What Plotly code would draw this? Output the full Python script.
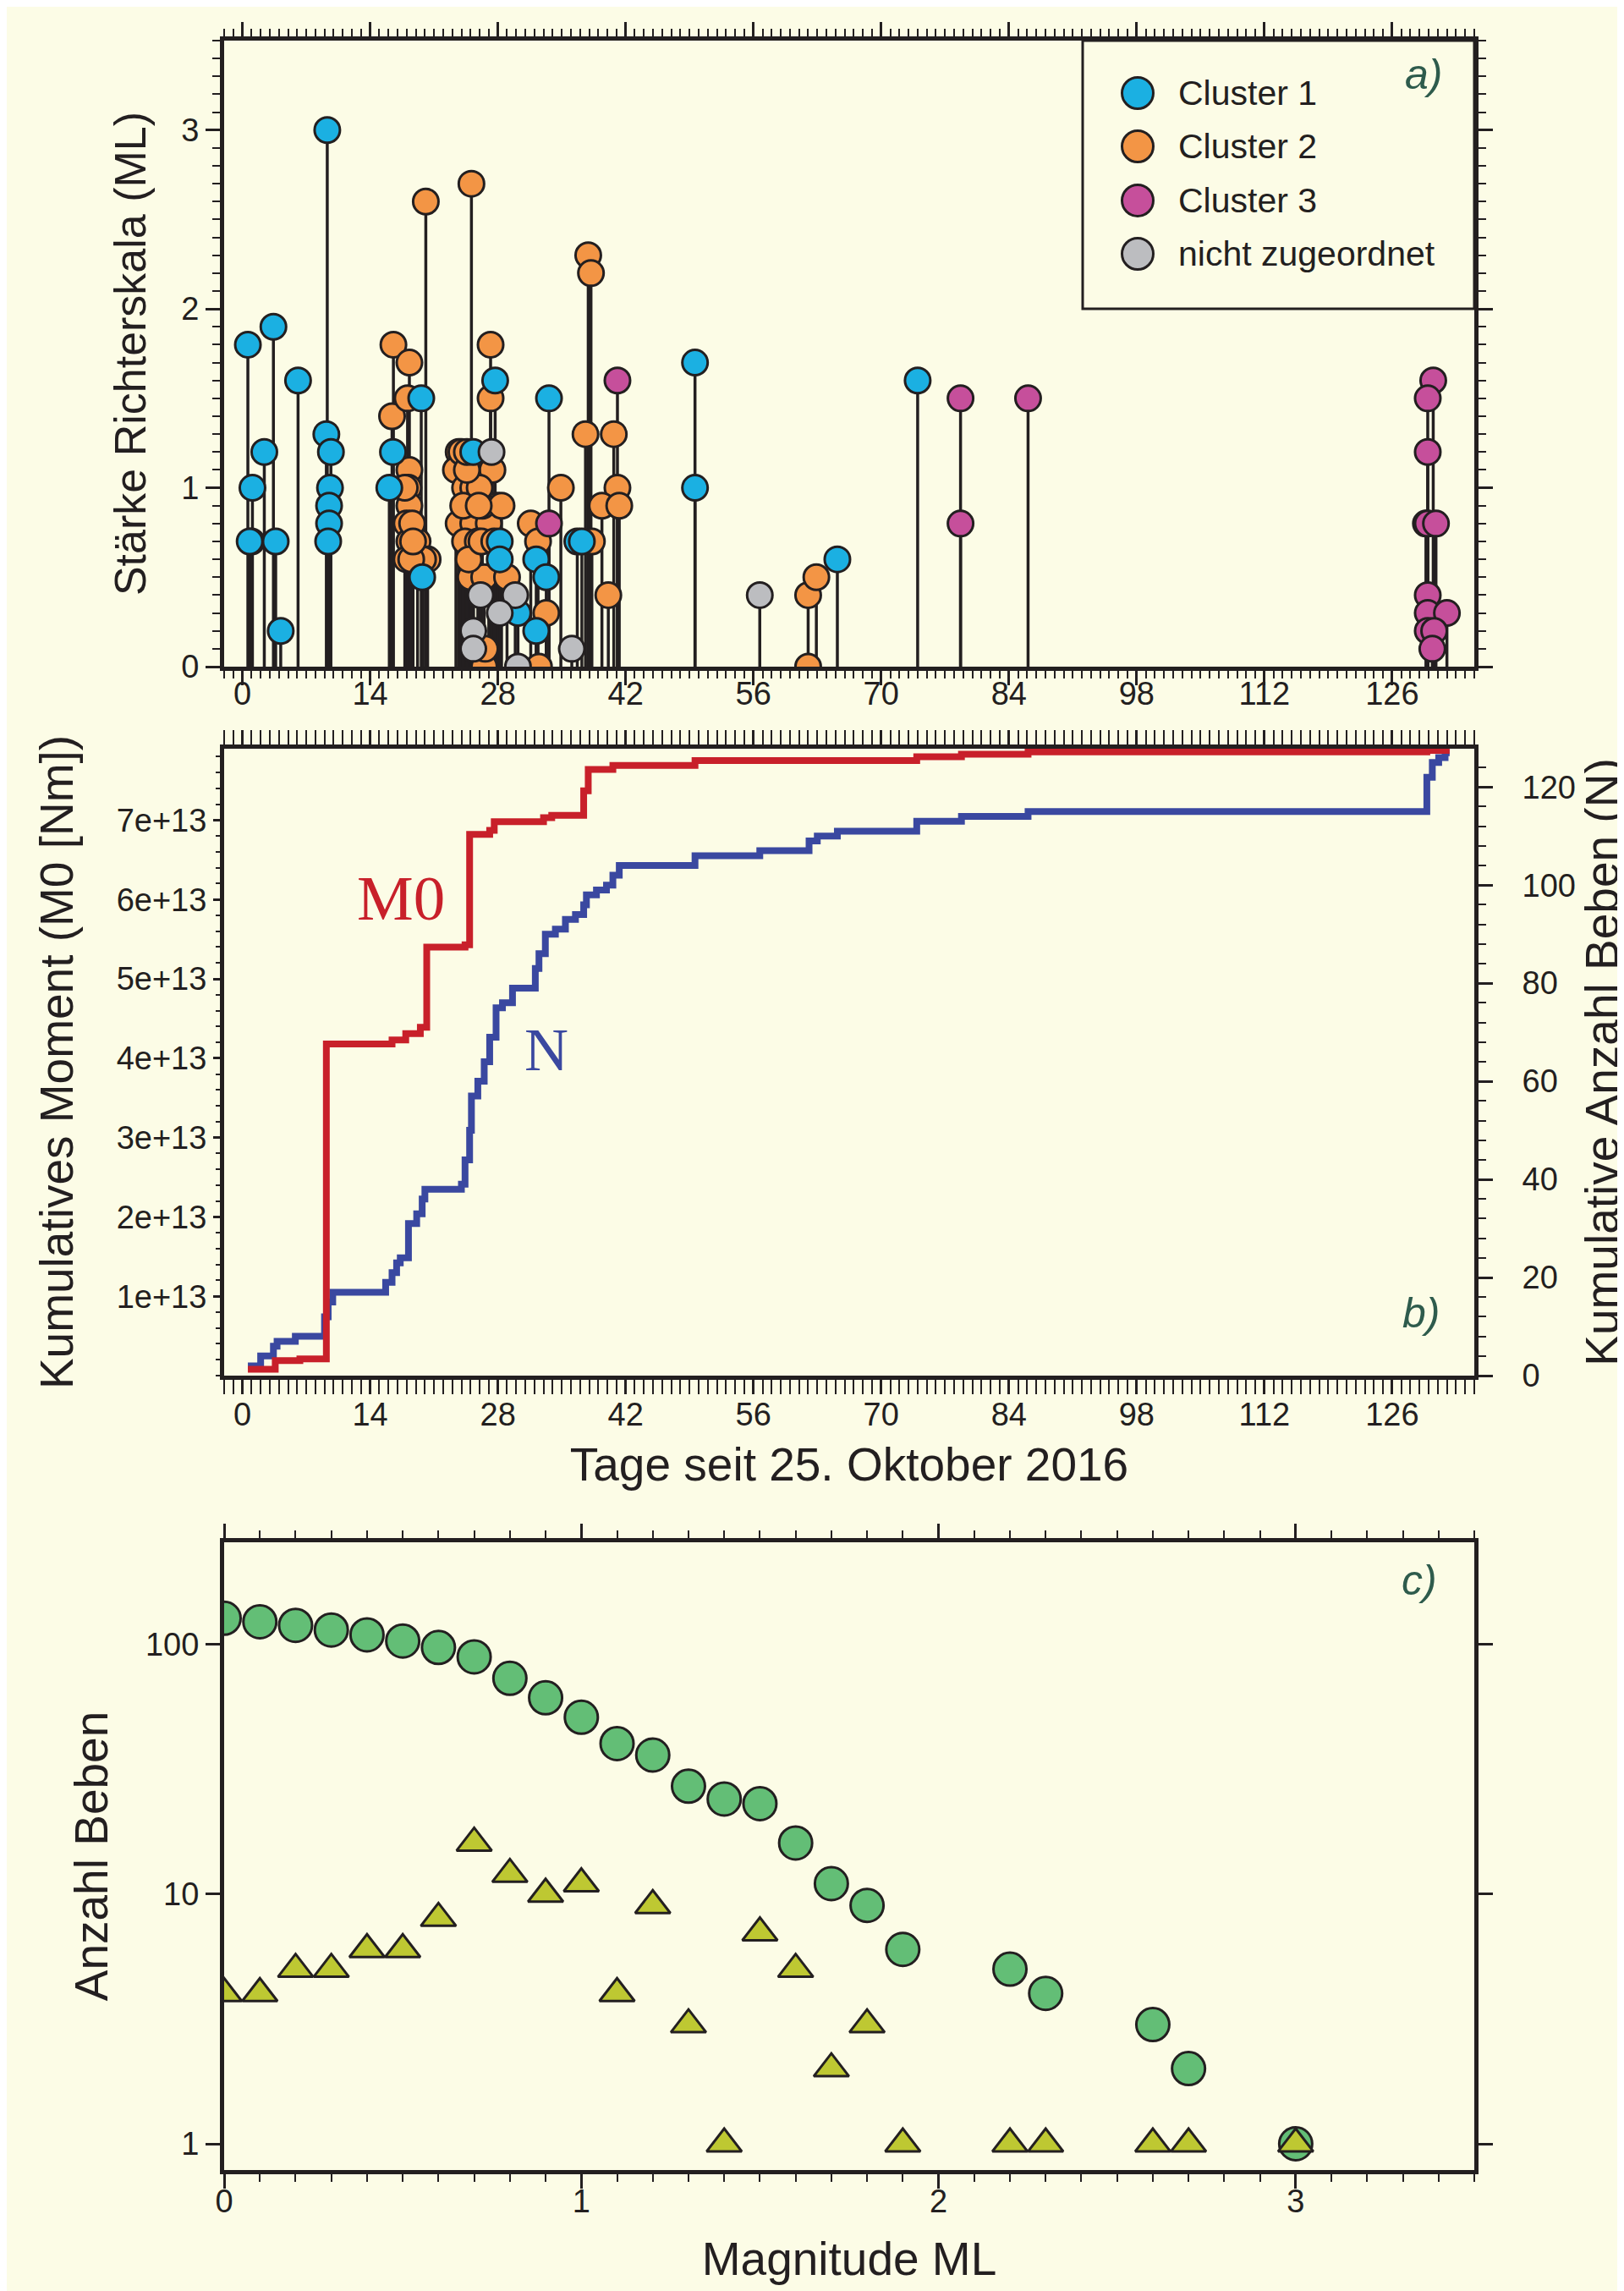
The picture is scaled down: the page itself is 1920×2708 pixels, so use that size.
import plotly.graph_objects as go

W, H = 1920, 2708
BG = "#FCFCE6"
INK = "#231F20"
SANS = "Liberation Sans, Arial, Helvetica, sans-serif"
SERIF = "Liberation Serif, Times New Roman, serif"
LABEL_GREEN = "#2E5B4C"

COL_C1 = "#1BB0E2"
COL_C2 = "#F39545"
COL_C3 = "#C64F9B"
COL_C0 = "#BCBDC0"
COL_RED = "#C8202A"
COL_BLUE = "#3A48A0"
COL_GREEN = "#63BE76"
COL_OLIVE = "#BEC832"

# ---------------- Panel a: events (days since 25 Oct 2016, ML) ----------------
c1_days = [0.6, 1.1, 1.0, 0.8, 2.4, 3.4, 3.65, 4.2, 6.1,
           9.3, 9.2, 9.7, 9.6, 9.5, 9.5, 9.4,
           16.1, 16.5, 19.6, 19.7,
           25.3, 27.7, 28.2, 28.2, 30.2,
           32.2, 33.3, 32.2, 33.6, 36.7, 37.2,
           49.6, 49.6, 65.2, 74.0]
c1_ml = [1.8, 1.0, 0.7, 0.7, 1.2, 1.9, 0.7, 0.2, 1.6,
         3.0, 1.3, 1.2, 1.0, 0.9, 0.8, 0.7,
         1.0, 1.2, 1.5, 0.5,
         1.2, 1.6, 0.7, 0.6, 0.3,
         0.6, 0.5, 0.2, 1.5, 0.7, 0.7,
         1.7, 1.0, 0.6, 1.6]

c2_days = [16.55, 16.4, 18.3, 18.1, 18.3, 18.2, 18.3, 18.0, 18.3, 19.2, 18.0, 20.3, 19.8, 20.1, 18.6, 17.8, 18.5, 18.7,
           23.7, 23.4, 24.4, 25.3, 24.97, 27.9, 23.7, 25.3, 27.0, 24.4, 25.0, 26.5, 29.0, 26.5, 25.1, 27.2, 27.2, 27.4,
           24.0, 25.8, 26.3, 24.8, 26.0,
           26.6, 26.2, 27.6, 24.2, 28.4, 25.9, 24.6, 24.6,
           31.6, 32.4, 33.3, 32.5, 34.9, 38.3, 37.9, 38.2, 37.6, 40.7, 41.1, 39.4, 41.3, 40.1,
           62.0, 62.0, 62.9]
c2_ml = [1.8, 1.4, 1.7, 1.5, 1.1, 1.0, 0.9, 0.8, 0.7, 0.7, 0.6, 0.6, 0.6, 2.6, 0.8, 1.0, 0.6, 0.7,
         1.2, 1.1, 1.0, 1.0, 0.9, 0.9, 0.8, 0.8, 0.8, 0.7, 0.5, 0.5, 0.5, 0.0, 2.7, 1.8, 1.5, 1.1,
         1.2, 0.7, 0.9, 0.6, 1.0,
         0.1, 0.7, 0.7, 0.9, 0.9, 0.9, 1.1, 1.2,
         0.8, 0.7, 0.3, 0.0, 1.0, 0.7, 2.3, 2.2, 1.3, 1.3, 1.0, 0.9, 0.9, 0.4,
         0.0, 0.4, 0.5]

c3_days = [33.6, 41.1, 78.7, 78.7, 86.1, 130.5, 129.9, 129.9, 129.9, 130.8, 129.9, 129.9, 132.0, 129.9, 130.6, 130.4]
c3_ml = [0.8, 1.6, 1.5, 0.8, 1.5, 1.6, 1.5, 1.2, 0.8, 0.8, 0.4, 0.3, 0.3, 0.2, 0.2, 0.1]

c0_days = [27.3, 26.1, 29.9, 28.2, 25.3, 25.3, 30.2, 36.1, 56.7, 129.7]
c0_ml = [1.2, 0.4, 0.4, 0.3, 0.2, 0.1, 0.0, 0.1, 0.4, 0.8]

legend_labels = ["Cluster 1", "Cluster 2", "Cluster 3", "nicht zugeordnet"]

# ---------------- Panel b: cumulative curves ----------------
n_days = [0.6, 2.0, 3.4, 3.8, 5.8, 9.0, 9.4, 9.9, 15.7, 16.4, 16.9, 17.3, 18.2, 19.1, 19.7, 20.0,
          24.0, 24.4, 24.9, 25.1, 25.8, 26.5, 27.1, 27.8, 28.5, 29.6,
          32.1, 32.5, 33.2, 34.3, 35.4, 36.5, 37.4, 37.7, 38.8, 39.9, 40.6, 41.3,
          49.6, 56.7, 62.1, 63.0, 65.2, 73.9, 78.8, 86.1, 129.8, 130.4, 131.1, 131.8, 132.3]
n_count = [2, 4, 6, 7, 8, 12, 15, 17, 19, 21, 23, 24, 31, 33, 36, 38,
           39, 44, 50, 57, 60, 64, 69, 75, 76, 79,
           83, 86, 90, 91, 93, 94, 96, 98, 99, 100, 102, 104,
           106, 107, 109, 110, 111, 113, 114, 115, 122, 125, 126, 127, 127]

m0_days = [0.6, 3.6, 6.3, 9.2, 16.4, 17.9, 19.5, 20.2, 24.4, 24.9, 27.1, 27.6, 33.0, 33.9,
           37.4, 37.9, 40.6, 49.6, 73.9, 78.8, 86.1, 129.8, 132.3]
m0_nm = [0.08e13, 0.19e13, 0.21e13, 4.18e13, 4.23e13, 4.31e13, 4.39e13, 5.40e13, 5.43e13, 6.82e13,
         6.87e13, 6.98e13, 7.03e13, 7.06e13, 7.37e13, 7.64e13, 7.69e13, 7.75e13, 7.80e13, 7.83e13,
         7.86e13, 7.88e13, 7.88e13]
m0_tickvals = [1e13, 2e13, 3e13, 4e13, 5e13, 6e13, 7e13]
m0_ticktext = ["1e+13", "2e+13", "3e+13", "4e+13", "5e+13", "6e+13", "7e+13"]
day_ticks = [0, 14, 28, 42, 56, 70, 84, 98, 112, 126]

# ---------------- Panel c: magnitude statistics ----------------
mag_bins = [0.0, 0.1, 0.2, 0.3, 0.4, 0.5, 0.6, 0.7, 0.8, 0.9, 1.0, 1.1, 1.2, 1.3, 1.4, 1.5,
            1.6, 1.7, 1.8, 1.9, 2.2, 2.3, 2.6, 2.7, 3.0]
n_cum = [127, 123, 119, 114, 109, 103, 97, 89, 73, 61, 51, 40, 36, 27, 24, 23,
         16, 11, 9, 6, 5, 4, 3, 2, 1]
n_bin = [4, 4, 5, 5, 6, 6, 8, 16, 12, 10, 11, 4, 9, 3, 1, 7,
         5, 2, 3, 1, 1, 1, 1, 1, 1]


def px(x):
    return x / W


def py(y):
    return 1 - y / H


X_DOM = [px(257), px(1735)]
A_DOM = [py(780), py(40)]
B_DOM = [py(1618), py(877)]
C_DOM = [py(2557), py(1815)]

TICKFONT = dict(family=SANS, size=38, color=INK)
TITLEFONT = dict(family=SANS, size=55, color=INK)

fig = go.Figure()

# ---- panel a: stems ----
clusters = [
    ("Cluster 1", c1_days, c1_ml, COL_C1),
    ("Cluster 2", c2_days, c2_ml, COL_C2),
    ("Cluster 3", c3_days, c3_ml, COL_C3),
    ("nicht zugeordnet", c0_days, c0_ml, COL_C0),
]
stem_x, stem_y = [], []
for _, days, mls, _ in clusters:
    for d, m in zip(days, mls):
        stem_x += [d, d, None]
        stem_y += [0, m, None]
fig.add_trace(go.Scatter(x=stem_x, y=stem_y, mode="lines", line=dict(color=INK, width=3.5),
                         xaxis="x", yaxis="y", hoverinfo="skip", showlegend=False))

draw_order = [1, 0, 3, 2]
for i in draw_order:
    name, days, mls, col = clusters[i]
    fig.add_trace(go.Scatter(x=days, y=mls, mode="markers", name=name,
                             marker=dict(size=30, color=col, line=dict(color=INK, width=3)),
                             xaxis="x", yaxis="y", showlegend=False))

# ---- panel b ----
fig.add_trace(go.Scatter(x=n_days, y=n_count, mode="lines", name="N",
                         line=dict(color=COL_BLUE, width=8, shape="hv"),
                         xaxis="x2", yaxis="y2", showlegend=False))
fig.add_trace(go.Scatter(x=m0_days, y=m0_nm, mode="lines", name="M0",
                         line=dict(color=COL_RED, width=8, shape="hv"),
                         xaxis="x2", yaxis="y3", showlegend=False))

# ---- panel c ----
fig.add_trace(go.Scatter(x=mag_bins, y=n_cum, mode="markers", name="kumulativ",
                         marker=dict(symbol="circle", size=39, color=COL_GREEN, line=dict(color=INK, width=3)),
                         xaxis="x3", yaxis="y4", showlegend=False))
fig.add_trace(go.Scatter(x=mag_bins, y=n_bin, mode="markers", name="pro Klasse",
                         marker=dict(symbol="triangle-up", size=36, color=COL_OLIVE, line=dict(color=INK, width=3)),
                         xaxis="x3", yaxis="y4", showlegend=False))


def axis(**kw):
    base = dict(showline=True, linewidth=5, linecolor=INK, ticks="outside", ticklen=17,
                tickwidth=2.5, tickcolor=INK, showgrid=False, zeroline=False,
                tickfont=TICKFONT, automargin=False)
    base.update(kw)
    return base


def minor(dt, ln=9):
    return dict(tick0=0, dtick=dt, ticks="outside", ticklen=ln, tickwidth=2,
                tickcolor=INK, showgrid=False)


fig.update_layout(
    width=W, height=H, margin=dict(l=0, r=0, t=0, b=0),
    paper_bgcolor=BG, plot_bgcolor=BG, showlegend=False,
    xaxis=axis(domain=X_DOM, anchor="y", range=[-2, 135], tickmode="array", tickvals=day_ticks,
               minor=minor(1), mirror="allticks", ticklabelstandoff=-23),
    yaxis=axis(domain=A_DOM, anchor="x", range=[0, 3.5], tickmode="linear", tick0=0, dtick=1,
               minor=minor(0.1), mirror="allticks",
               title=dict(text="Stärke Richterskala (ML)", font=dict(family=SANS, size=52, color=INK),
                          standoff=27)),
    xaxis2=axis(domain=X_DOM, anchor="y2", range=[-2, 135], tickmode="array", tickvals=day_ticks,
                minor=minor(1), mirror="allticks", ticklabelstandoff=-9,
                title=dict(text="Tage seit 25. Oktober 2016", font=TITLEFONT, standoff=21)),
    yaxis2=axis(domain=B_DOM, anchor="x2", side="right", range=[0, 127.8], tickmode="linear",
                tick0=0, dtick=20, minor=minor(4), ticklabelstandoff=27,
                title=dict(text="Kumulative Anzahl Beben (N)", font=TITLEFONT, standoff=10)),
    yaxis3=axis(overlaying="y2", anchor="x2", side="left", range=[0, 7.9e13], tickmode="array",
                tickvals=m0_tickvals, ticktext=m0_ticktext, ticklen=8, minor=minor(2e12, ln=5),
                title=dict(text="Kumulatives Moment (M0 [Nm])", font=TITLEFONT, standoff=35)),
    xaxis3=axis(domain=X_DOM, anchor="y4", range=[0, 3.5], tickmode="linear", tick0=0, dtick=1,
                minor=minor(0.1), mirror="allticks", ticklabelstandoff=-18,
                title=dict(text="Magnitude ML", font=TITLEFONT, standoff=30)),
    yaxis4=axis(domain=C_DOM, anchor="x3", type="log", range=[-0.105, 2.408], tickmode="array",
                tickvals=[1, 10, 100], ticktext=["1", "10", "100"], mirror="allticks",
                title=dict(text="Anzahl Beben", font=TITLEFONT, standoff=28)),
)

# ---- legend (drawn as shapes + text so that marker sizes match) ----
shapes = [dict(type="rect", xref="paper", yref="paper", x0=px(1272), x1=px(1735), y0=py(357), y1=py(40),
               line=dict(color=INK, width=3), fillcolor=BG, layer="above")]
annotations = []
legend_cols = [COL_C1, COL_C2, COL_C3, COL_C0]
legend_y = [102, 165, 229, 292]
for lab, col, ly in zip(legend_labels, legend_cols, legend_y):
    r = 18.5
    shapes.append(dict(type="circle", xref="paper", yref="paper", x0=px(1337 - r), x1=px(1337 + r),
                       y0=py(ly + r), y1=py(ly - r), fillcolor=col, line=dict(color=INK, width=3),
                       layer="above"))
    annotations.append(dict(text=lab, xref="paper", yref="paper", x=px(1383), y=py(ly), xanchor="left",
                            yanchor="middle", showarrow=False, font=dict(family=SANS, size=41, color=INK)))

# panel labels
for txt, (lx, ly) in [("a)", (1675, 80)), ("b)", (1672, 1544)), ("c)", (1670, 1860))]:
    annotations.append(dict(text="<i>" + txt + "</i>", xref="paper", yref="paper", x=px(lx), y=py(ly),
                            xanchor="center", yanchor="middle", showarrow=False,
                            font=dict(family=SANS, size=50, color=LABEL_GREEN)))

# curve labels in panel b
annotations.append(dict(text="M0", xref="x2", yref="y3", x=17.4, y=6.02e13, showarrow=False,
                        xanchor="center", yanchor="middle", font=dict(family=SERIF, size=75, color=COL_RED)))
annotations.append(dict(text="N", xref="x2", yref="y3", x=33.3, y=4.1e13, showarrow=False,
                        xanchor="center", yanchor="middle", font=dict(family=SERIF, size=72, color=COL_BLUE)))

fig.update_layout(shapes=shapes, annotations=annotations)

fig.write_html("out.html")
